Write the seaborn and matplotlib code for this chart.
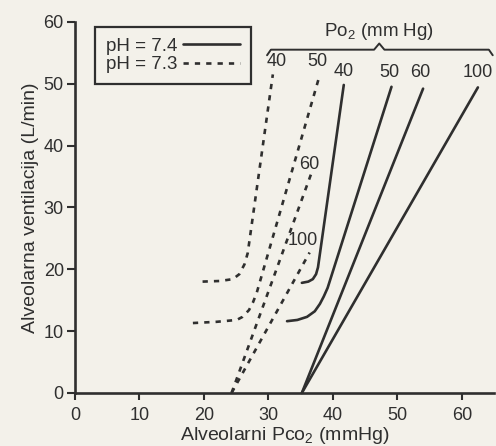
import numpy as np
import pandas as pd
import seaborn as sns
import matplotlib.pyplot as plt
from matplotlib.lines import Line2D

# ventilation response curves
# pH 7.4 (solid)
s100_x = [35.2, 62.5]
s100_y = [0, 49.4]
s60_x = [35.2, 54.0]
s60_y = [0, 49.2]
s50_x = [32.9, 34.5, 36.0, 37.2, 38.0, 38.6, 39.2, 49.1]
s50_y = [11.6, 11.8, 12.3, 13.2, 14.4, 15.6, 17.0, 49.5]
s40_x = [35.2, 36.2, 36.9, 37.4, 37.7, 41.7]
s40_y = [17.8, 18.0, 18.4, 19.2, 20.3, 49.8]

# pH 7.3 (dashed)
d100_x = [24.3, 36.4]
d100_y = [0, 22.7]
d60_x = [24.3, 36.7]
d60_y = [0, 35.6]
d50_x = [18.3, 22.0, 25.1, 26.0, 27.0, 27.6, 28.2, 38.0]
d50_y = [11.3, 11.5, 11.8, 12.3, 13.4, 14.6, 16.2, 51.5]
d40_x = [19.8, 22.5, 24.5, 25.5, 26.3, 26.8, 30.7]
d40_y = [18.0, 18.1, 18.4, 19.2, 20.8, 22.6, 51.5]

curves = [
    ('7.4', '100', s100_x, s100_y),
    ('7.4', '60', s60_x, s60_y),
    ('7.4', '50', s50_x, s50_y),
    ('7.4', '40', s40_x, s40_y),
    ('7.3', '100', d100_x, d100_y),
    ('7.3', '60', d60_x, d60_y),
    ('7.3', '50', d50_x, d50_y),
    ('7.3', '40', d40_x, d40_y),
]

# label offsets (points) from the top end of each curve
label_offsets = {
    ('7.4', '100'): (0, 11), ('7.4', '60'): (-2, 11.5),
    ('7.4', '50'): (-1.5, 10), ('7.4', '40'): (0, 9.5),
    ('7.3', '100'): (-5, 9), ('7.3', '60'): (-2, 6),
    ('7.3', '50'): (-2, 9), ('7.3', '40'): (3, 9),
}

rows = []
for ph, po2, xs, ys in curves:
    for x, y in zip(xs, ys):
        rows.append({'ph': ph, 'po2': po2, 'pco2': x, 'vent': y})
df = pd.DataFrame(rows)

bg = '#f3f1ea'
ink = '#2f2f2f'
dash = (0, (2.0, 2.3))

sns.set_style('ticks')
plt.rcParams['font.family'] = ['Liberation Sans', 'DejaVu Sans']
plt.rcParams['mathtext.fontset'] = 'custom'
plt.rcParams['mathtext.rm'] = 'Liberation Sans'
plt.rcParams['text.color'] = ink

fig = plt.figure(figsize=(4.96, 4.46), dpi=100, facecolor=bg)
ax = fig.add_axes([0.151, 0.119, 0.845, 0.832])
ax.set_facecolor(bg)

for (ph, po2), grp in df.groupby(['ph', 'po2'], sort=False):
    ls = '-' if ph == '7.4' else dash
    sns.lineplot(data=grp, x='pco2', y='vent', sort=False, estimator=None,
                 color=ink, lw=1.9, linestyle=ls, ax=ax, clip_on=False)
    top = grp.iloc[-1]
    ax.annotate(po2, xy=(top['pco2'], top['vent']), xytext=label_offsets[(ph, po2)],
                textcoords='offset points', ha='center', va='center',
                fontsize=13, color=ink, annotation_clip=False)

# curly brace over the Po2 labels
brace_left, brace_right, brace_y = 29.8, 64.8, 55.5
mid = (brace_left + brace_right) / 2 - 0.1
bx = np.array([brace_left, brace_left + 0.6, mid - 0.8, mid, mid + 0.8, brace_right - 0.6, brace_right])
by = np.array([brace_y - 0.9, brace_y, brace_y, brace_y + 1.0, brace_y, brace_y, brace_y - 0.9])
ax.plot(bx, by, color=ink, lw=1.4, clip_on=False)
ax.text(mid, 58.5, r'Po$_\mathregular{2}$ (mm Hg)', ha='center', va='center',
        fontsize=13.5, color=ink)

ax.set_xlim(0, 65)
ax.set_ylim(0, 60)
ax.set_xticks([0, 10, 20, 30, 40, 50, 60])
ax.set_yticks([0, 10, 20, 30, 40, 50, 60])
ax.tick_params(direction='out', length=6, width=1.5, colors=ink, labelsize=13, pad=2)
ax.tick_params(axis='x', length=5, pad=5)
for s in ['top', 'right']:
    ax.spines[s].set_visible(False)
for s in ['left', 'bottom']:
    ax.spines[s].set_linewidth(1.9)
    ax.spines[s].set_color(ink)

ax.set_xlabel(r'Alveolarni Pco$_\mathregular{2}$ (mmHg)', fontsize=14, color=ink, labelpad=1)
ax.set_ylabel('Alveolarna ventilacija (L/min)', fontsize=14, color=ink, labelpad=3)

handles = [Line2D([], [], color=ink, lw=1.9, linestyle='-'),
           Line2D([], [], color=ink, lw=1.9, linestyle=dash)]
leg = ax.legend(handles, ['pH = 7.4', 'pH = 7.3'], loc='upper left',
                bbox_to_anchor=(0.048, 0.987), markerfirst=False, fontsize=13.5,
                handlelength=3.0, handletextpad=0.3, borderpad=0.6,
                labelspacing=0.05, borderaxespad=0, fancybox=False, framealpha=1,
                facecolor=bg, edgecolor=ink)
leg.get_frame().set_linewidth(1.6)

fig.savefig('out.png', dpi=100, facecolor=bg)
